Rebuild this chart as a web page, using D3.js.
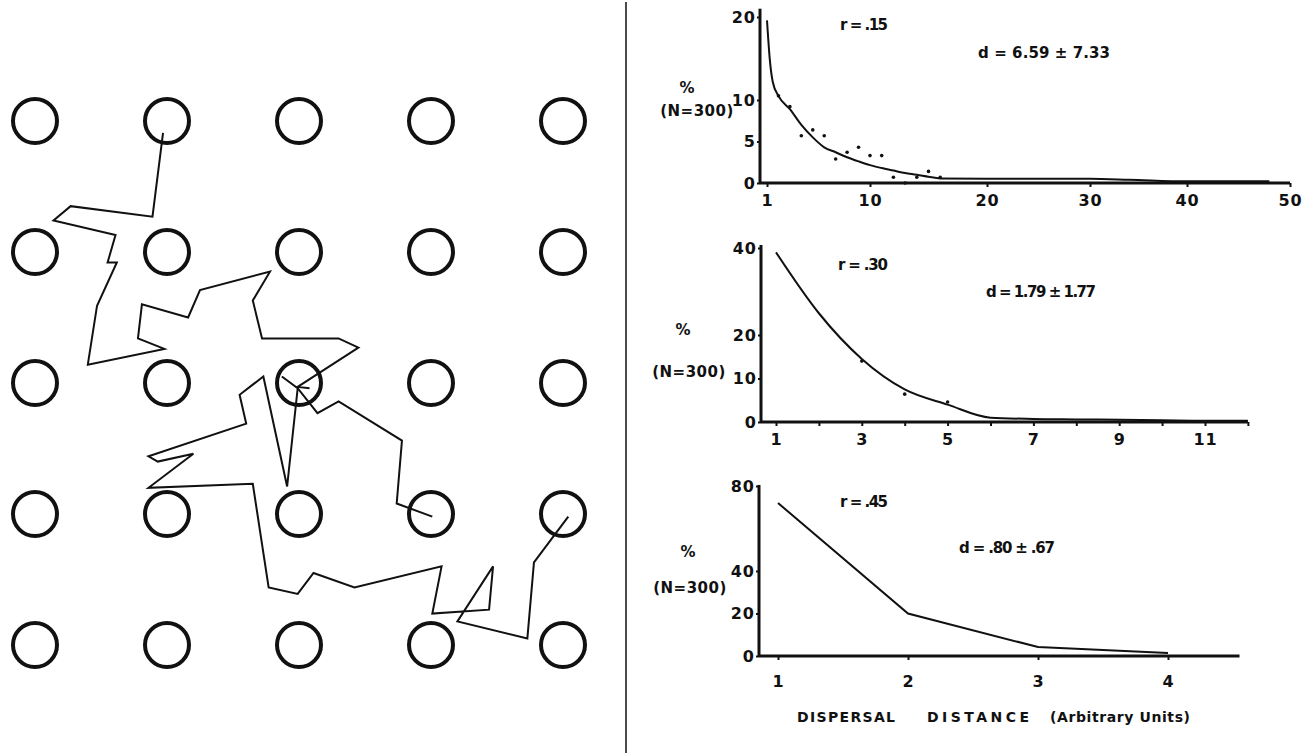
<!DOCTYPE html>
<html>
<head>
<meta charset="utf-8">
<script src="https://cdn.jsdelivr.net/npm/d3@7"></script>
<style>
  html, body { margin: 0; padding: 0; background: #fff; }
  svg text { font-family: "DejaVu Sans", "Liberation Sans", sans-serif; font-weight: bold; fill: #111; }
</style>
</head>
<body>
<svg id="chart" width="1315" height="755"></svg>
<script>
// patch grid (column / row index)
const gridCols = [0, 1, 2, 3, 4];
const gridRows = [0, 1, 2, 3, 4];

// walk vertices, in grid units (col, row)
const walkA = [[0.97,0.09],[0.89,0.73],[0.27,0.65],[0.14,0.76],[0.61,0.87],[0.55,1.08],[0.62,1.08],
  [0.47,1.41],[0.40,1.86],[0.98,1.74],[0.78,1.66],[0.81,1.40],[1.16,1.50],[1.25,1.29],[1.78,1.15],
  [1.65,1.37],[1.72,1.66],[2.30,1.66],[2.45,1.73],[1.99,2.03],[2.08,2.04]];
const walkB = [[1.87,1.95],[1.99,2.04],[2.14,2.23],[2.30,2.14],[2.78,2.44],[2.74,2.92],[3.01,3.02]];
const walkC = [[1.99,2.04],[1.91,2.79],[1.73,1.95],[1.55,2.09],[1.60,2.31],[0.86,2.56],[0.93,2.60],
  [1.20,2.54],[0.86,2.80],[1.65,2.77],[1.77,3.56],[1.99,3.61],[2.11,3.45],[2.42,3.56],[3.08,3.40],
  [3.01,3.76],[3.44,3.73],[3.47,3.40],[3.20,3.82],[3.73,3.95],[3.78,3.37],[4.04,3.02]];

// panel 1 (r = .15)
const p1XTicks = [1, 10, 20, 30, 40, 50];
const p1YTicks = [0, 5, 10, 20];
const p1FitX = [1, 1.25, 1.5, 2, 3, 4, 5, 6, 7, 8, 9, 10, 11, 12, 13, 14, 15, 16, 20, 30, 34, 40, 48];
const p1FitY = [19.6, 14.8, 12.2, 10.5, 8.9, 7.0, 5.5, 4.3, 3.7, 3.1, 2.6, 2.15, 1.8, 1.5, 1.2, 1.0, 0.75, 0.55, 0.5, 0.5, 0.4, 0.2, 0.2];
const p1ObsX = [2, 3, 4, 5, 6, 7, 8, 9, 10, 11, 12, 13, 14, 15, 16];
const p1ObsY = [10.5, 9.2, 5.7, 6.4, 5.7, 2.9, 3.7, 4.3, 3.3, 3.3, 0.7, 0, 0.7, 1.4, 0.7];

// panel 2 (r = .30)
const p2XTicks = [1, 2, 3, 4, 5, 6, 7, 8, 9, 10, 11, 12];
const p2YTicks = [0, 10, 20, 40];
const p2FitX = [1, 2, 3, 4, 5, 6, 7, 8, 9, 10, 11, 12];
const p2FitY = [39, 25, 14.5, 7.5, 4.0, 1.0, 0.7, 0.6, 0.5, 0.4, 0.3, 0.3];
const p2ObsX = [3, 4, 5];
const p2ObsY = [14, 6.4, 4.6];

// panel 3 (r = .45)
const p3XTicks = [1, 2, 3, 4];
const p3YTicks = [0, 20, 40, 80];
const p3X = [1, 2, 3, 4];
const p3Y = [72, 20, 4.2, 1.4];

const ink = "#111";
const svg = d3.select("#chart");

// ---- left: patches and walk ----
const gx = d3.scaleLinear().domain([0, 4]).range([35, 563]);
const gy = d3.scaleLinear().domain([0, 4]).range([121, 645]);

const cells = gridRows.flatMap(r => gridCols.map(c => [c, r]));
svg.append("g").selectAll("circle").data(cells).join("circle")
  .attr("cx", d => gx(d[0])).attr("cy", d => gy(d[1])).attr("r", 22)
  .attr("fill", "none").attr("stroke", ink).attr("stroke-width", 4);

const walkLine = d3.line().x(d => gx(d[0])).y(d => gy(d[1]));
svg.append("g").selectAll("path").data([walkA, walkB, walkC]).join("path")
  .attr("d", walkLine)
  .attr("fill", "none").attr("stroke", ink).attr("stroke-width", 2).attr("stroke-linejoin", "miter");

// divider
svg.append("line").attr("x1", 626).attr("x2", 626).attr("y1", 2).attr("y2", 753)
  .attr("stroke", ink).attr("stroke-width", 1.5);

// ---- right: three distributions ----
const panels = [
  {
    x: d3.scaleLinear().domain(p1XTicks).range([767, 870, 987, 1090, 1187, 1290]),
    y: d3.scaleLinear().domain([0, 20]).range([183, 17]),
    left: 760, xEnd: 50, yTop: 21, xTicks: p1XTicks, yTicks: p1YTicks, xFmt: d => d, xPad: 8,
    fit: d3.zip(p1FitX, p1FitY), obs: d3.zip(p1ObsX, p1ObsY), curve: d3.curveMonotoneX,
    pct: [687, 88], n: [697, 111], r: [840, 25, "r = .15", 48], d: [978, 53, "d = 6.59 ± 7.33", 132]
  },
  {
    x: d3.scaleLinear().domain([1, 11]).range([776, 1205]),
    y: d3.scaleLinear().domain([0, 40]).range([422, 248]),
    left: 761, xEnd: 12, yTop: 40.7, xTicks: p2XTicks, yTicks: p2YTicks, xFmt: d => d % 2 ? d : "", xPad: 8,
    fit: d3.zip(p2FitX, p2FitY), obs: d3.zip(p2ObsX, p2ObsY), curve: d3.curveMonotoneX,
    pct: [683, 330], n: [689, 372], r: [838, 265, "r = .30", 50], d: [986, 292, "d = 1.79 ± 1.77", 110]
  },
  {
    x: d3.scaleLinear().domain([1, 4]).range([778, 1168]),
    y: d3.scaleLinear().domain([0, 80]).range([656, 486]),
    left: 759, xEnd: 4.55, yTop: 80.5, xTicks: p3XTicks, yTicks: p3YTicks, xFmt: d => d, xPad: 16,
    fit: d3.zip(p3X, p3Y), obs: [], curve: d3.curveLinear,
    pct: [688, 552], n: [690, 588], r: [840, 502, "r = .45", 48], d: [959, 548, "d = .80 ± .67", 96]
  }
];

panels.forEach(p => {
  const g = svg.append("g");
  const y0 = p.y(0);

  g.append("line").attr("x1", p.left).attr("x2", p.left).attr("y1", p.y(p.yTop)).attr("y2", y0)
    .attr("stroke", ink).attr("stroke-width", 3);
  g.append("line").attr("x1", p.left).attr("x2", p.x(p.xEnd)).attr("y1", y0).attr("y2", y0)
    .attr("stroke", ink).attr("stroke-width", 3);

  const xa = g.append("g").attr("transform", `translate(0,${y0})`)
    .call(d3.axisBottom(p.x).tickValues(p.xTicks).tickFormat(p.xFmt).tickSize(4).tickPadding(p.xPad));
  const ya = g.append("g").attr("transform", `translate(${p.left},0)`)
    .call(d3.axisLeft(p.y).tickValues(p.yTicks).tickSize(3).tickPadding(1));
  [xa, ya].forEach(a => {
    a.select(".domain").remove();
    a.selectAll(".tick line").attr("stroke", ink).attr("stroke-width", 2);
    a.selectAll(".tick text").attr("font-size", 16).style("letter-spacing", "1px").attr("fill", ink);
  });

  g.append("path").datum(p.fit)
    .attr("d", d3.line().x(d => p.x(d[0])).y(d => p.y(d[1])).curve(p.curve))
    .attr("fill", "none").attr("stroke", ink).attr("stroke-width", 2);

  g.selectAll(".obs").data(p.obs).join("circle").attr("class", "obs")
    .attr("cx", d => p.x(d[0])).attr("cy", d => p.y(d[1])).attr("r", 1.8).attr("fill", ink);

  g.append("text").attr("x", p.pct[0]).attr("y", p.pct[1] + 5).attr("text-anchor", "middle")
    .attr("font-size", 15).text("%");
  g.append("text").attr("x", p.n[0]).attr("y", p.n[1] + 5).attr("text-anchor", "middle")
    .attr("font-size", 15).style("letter-spacing", "0.5px").text("(N=300)");
  g.append("text").attr("x", p.r[0]).attr("y", p.r[1] + 5).attr("font-size", 15)
    .attr("textLength", p.r[3]).attr("lengthAdjust", "spacing").text(p.r[2]);
  g.append("text").attr("x", p.d[0]).attr("y", p.d[1] + 5).attr("font-size", 15)
    .attr("textLength", p.d[3]).attr("lengthAdjust", "spacing").text(p.d[2]);
});

// x title
const titleParts = [["DISPERSAL", 797, 98], ["DISTANCE", 927, 102], ["(Arbitrary Units)", 1050, 140]];
svg.append("g").selectAll("text").data(titleParts).join("text")
  .attr("x", d => d[1]).attr("y", 722).attr("font-size", 14)
  .attr("textLength", d => d[2]).attr("lengthAdjust", "spacing").text(d => d[0]);
</script>
</body>
</html>
